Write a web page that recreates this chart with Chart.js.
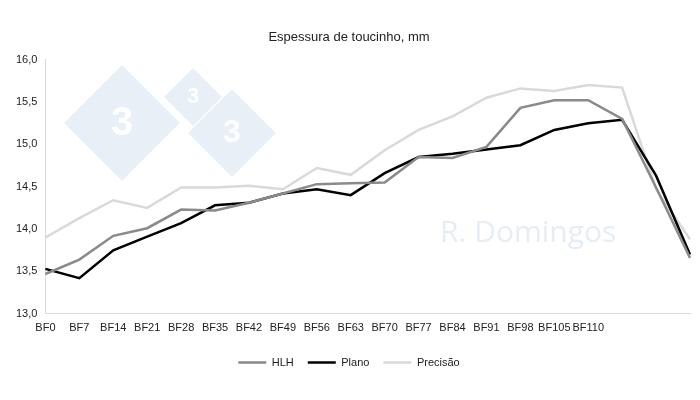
<!DOCTYPE html><html><head><script src="https://cdn.jsdelivr.net/npm/chart.js@4"></script>
<style>body{margin:0;background:#fff}</style></head><body><canvas id="c" width="700" height="400"></canvas>
<script>
const categories=["BF0","BF7","BF14","BF21","BF28","BF35","BF42","BF49","BF56","BF63","BF70","BF77","BF84","BF91","BF98","BF105","BF110","","",""];
const hlh=[13.47,13.64,13.92,14.01,14.23,14.22,14.31,14.42,14.53,14.54,14.55,14.85,14.84,14.97,15.43,15.52,15.52,15.30,14.49,13.66];
const plano=[13.53,13.42,13.75,13.91,14.07,14.28,14.31,14.42,14.47,14.40,14.66,14.85,14.89,14.94,14.99,15.17,15.25,15.29,14.63,13.70];
const precisao=[13.90,14.13,14.34,14.25,14.49,14.49,14.51,14.47,14.72,14.64,14.93,15.17,15.33,15.55,15.66,15.63,15.70,15.67,14.47,13.88];
const yTicks=["13,0","13,5","14,0","14,5","15,0","15,5","16,0"];
const wm={id:'wm',beforeDatasetsDraw(ch){const c=ch.ctx;c.save();c.fillStyle='#e9eff7';
function d(x,y,s){c.beginPath();c.moveTo(x,y-s);c.lineTo(x+s,y);c.lineTo(x,y+s);c.lineTo(x,y-s);c.closePath();}
function dm(x,y,s){c.beginPath();c.moveTo(x,y-s);c.lineTo(x+s,y);c.lineTo(x,y+s);c.lineTo(x-s,y);c.closePath();c.fill();}
dm(122,123,58);dm(193,97,29);dm(232,133,44);
c.fillStyle='#fff';c.font='bold 40px Arial';c.textAlign='center';c.textBaseline='middle';c.fillText('3',122,124);c.font='bold 22px Arial';c.fillText('3',193,97);c.font='bold 32px Arial';c.fillText('3',232,133);
c.fillStyle='#e6edf6';c.font='30px "Open Sans"';c.textAlign='left';c.fillText('R. Domingos',440,233);c.restore();}};
new Chart(document.getElementById('c'),{type:'line',plugins:[wm],data:{labels:categories,datasets:[
{label:'HLH',data:hlh,borderColor:'#8a8a8a',backgroundColor:'#8a8a8a',borderWidth:2.5,pointRadius:0,tension:0},
{label:'Plano',data:plano,borderColor:'#000',backgroundColor:'#000',borderWidth:2.5,pointRadius:0,tension:0},
{label:'Precisão',data:precisao,borderColor:'#d9d9d9',backgroundColor:'#d9d9d9',borderWidth:2.5,pointRadius:0,tension:0}]},
options:{responsive:false,animation:false,devicePixelRatio:1,layout:{padding:{left:8,right:10,top:0,bottom:22}},
plugins:{title:{display:true,text:'Espessura de toucinho, mm',color:'#222',font:{family:'Liberation Sans',size:13,weight:'normal'},padding:{top:30,bottom:14}},
legend:{position:'bottom',labels:{boxWidth:28,boxHeight:0,color:'#222',font:{family:'Liberation Sans',size:11},padding:14}},tooltip:{enabled:false}},
scales:{x:{offset:false,grid:{display:false,drawTicks:false},border:{color:'#d9d9d9'},ticks:{color:'#222',font:{family:'Liberation Sans',size:11},maxRotation:0,autoSkip:false,padding:8}},
y:{min:13,max:16,grid:{display:false,drawTicks:false},border:{color:'#d9d9d9'},ticks:{stepSize:0.5,color:'#222',font:{family:'Liberation Sans',size:11},padding:8,callback:(v,i)=>yTicks[i]}}}}});
</script></body></html>
